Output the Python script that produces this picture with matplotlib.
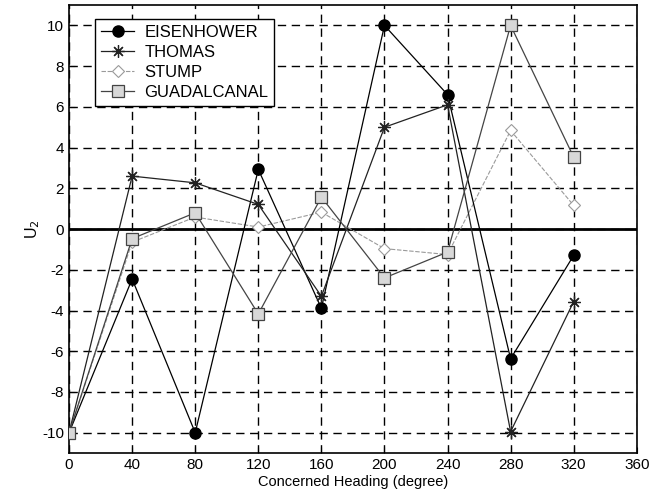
import numpy as np
import matplotlib
matplotlib.use("Agg")
import matplotlib.pyplot as plt

plt.rcParams['font.family'] = ['Liberation Sans', 'DejaVu Sans']
plt.rcParams['axes.unicode_minus'] = False

heading = [0, 40, 80, 120, 160, 200, 240, 280, 320]
eisenhower = [-10, -2.45, -10, 2.93, -3.89, 10, 6.6, -6.37, -1.29]
thomas = [-10, 2.6, 2.27, 1.21, -3.3, 5.0, 6.1, -9.95, -3.56]
stump = [-10, -0.64, 0.59, 0.1, 0.83, -0.96, -1.25, 4.84, 1.16]
guadalcanal = [-10, -0.47, 0.8, -4.17, 1.57, -2.4, -1.13, 10, 3.53]

xticks = np.arange(0, 361, 40)
yticks = np.arange(-10, 11, 2)

fig = plt.figure(figsize=(6.64, 5.04), dpi=100)
ax = fig.add_axes([0.104, 0.101, 0.855, 0.889])

ax.plot(heading, eisenhower, color='black', lw=0.9, marker='o', ms=8,
        mfc='black', mec='black', label='EISENHOWER', zorder=4)
ax.plot(heading, thomas, color='#222222', lw=0.9, marker=(8, 2, 0), ms=9,
        mec='#222222', mew=0.9, label='THOMAS', zorder=4)
ax.plot(heading, stump, color='#9a9a9a', lw=0.8, ls=(0, (4, 1.5)), marker='D', ms=6,
        mfc='white', mec='#9a9a9a', mew=0.8, label='STUMP', zorder=3)
ax.plot(heading, guadalcanal, color='#444444', lw=0.9, marker='s', ms=9,
        mfc='#d8d8d8', mec='#444444', mew=0.9, label='GUADALCANAL', zorder=5)

ax.axhline(0, color='black', lw=2, zorder=2)

ax.set_xlim(0, 360)
ax.set_ylim(-11, 11)
ax.set_xticks(xticks)
ax.set_yticks(yticks)
ax.grid(True, color='black', ls=(0, (6, 4)), lw=1)
ax.tick_params(direction='in', labelsize=11, length=4)
for s in ax.spines.values():
    s.set_linewidth(1.2)

ax.set_xlabel('Concerned Heading (degree)', fontsize=10.5, labelpad=2)
ax.set_ylabel('U$_2$', fontsize=11.5, labelpad=0)

leg = ax.legend(loc='upper left', bbox_to_anchor=(0.046, 0.969), borderaxespad=0,
                fontsize=12, frameon=True, fancybox=False, edgecolor='black',
                framealpha=1, borderpad=0.35, labelspacing=0.3, handlelength=2.0,
                handletextpad=0.6)
leg.get_frame().set_linewidth(1)

fig.savefig('out.png', dpi=100)
